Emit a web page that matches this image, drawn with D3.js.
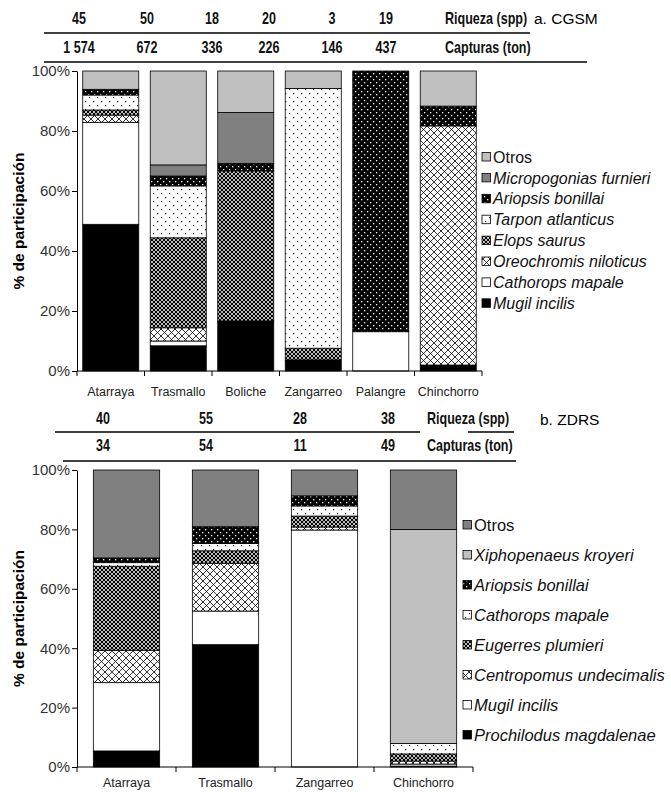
<!DOCTYPE html>
<html><head><meta charset="utf-8">
<script src="https://cdn.jsdelivr.net/npm/d3@7"></script>
<style>
body{margin:0;background:#fff;}
svg{display:block;}
</style></head>
<body>
<svg id="chart" width="671" height="792"></svg>
<script>
// ---------- DATA ----------
const gearsA = ["Atarraya","Trasmallo","Boliche","Zangarreo","Palangre","Chinchorro"];
const riquezaA = ["45","50","18","20","3","19"];
const capturasA = ["1 574","672","336","226","146","437"];
const speciesA = ["Mugil incilis","Cathorops mapale","Oreochromis niloticus","Elops saurus","Tarpon atlanticus","Ariopsis bonillai","Micropogonias furnieri","Otros"];
const mugilA        = [48.9, 8.4, 16.7, 3.7, 0, 2.0];
const cathoropsA    = [34.0, 1.6, 0, 0, 13.1, 0];
const oreochromisA  = [2.4, 4.4, 0, 0, 0, 79.7];
const elopsA        = [1.7, 30.0, 50.0, 3.9, 0, 0];
const tarponA       = [5.0, 17.3, 0, 86.6, 0, 0];
const ariopsisA     = [1.9, 3.3, 2.5, 0, 86.9, 6.6];
const micropogoniasA= [0, 3.7, 17.0, 0, 0, 0];
const otrosA        = [6.1, 31.3, 13.8, 5.8, 0, 11.7];

const gearsB = ["Atarraya","Trasmallo","Zangarreo","Chinchorro"];
const riquezaB = ["40","55","28","38"];
const capturasB = ["34","54","11","49"];
const speciesB = ["Prochilodus magdalenae","Mugil incilis","Centropomus undecimalis","Eugerres plumieri","Cathorops mapale","Ariopsis bonillai","Xiphopenaeus kroyeri","Otros"];
const prochilodusB = [5.4, 41.2, 0, 0.3];
const mugilB       = [23.0, 11.3, 79.8, 0.7];
const centropomusB = [10.9, 16.1, 1.0, 1.0];
const eugerresB    = [28.3, 4.2, 3.7, 2.4];
const cathoropsB   = [1.2, 2.5, 3.4, 3.5];
const ariopsisB    = [1.6, 5.6, 3.4, 0];
const xiphoB       = [0, 0, 0, 72.1];
const otrosB       = [29.6, 19.1, 8.7, 20.0];
const yTicks = [0,20,40,60,80,100];

// ---------- STYLES ----------
const fillsA = ["#000","#fff","url(#cross)","url(#dense)","url(#sparse)","url(#blackdots)","#808080","#c0c0c0"];
const fillsB = ["#000","#fff","url(#cross)","url(#dense)","url(#sparse)","url(#blackdots)","#c0c0c0","#808080"];
const sans = "'Liberation Sans',Arial,sans-serif";

const svg = d3.select("#chart");
const defs = svg.append("defs");
let p = defs.append("pattern").attr("id","cross").attr("patternUnits","userSpaceOnUse").attr("width",7).attr("height",7);
p.append("rect").attr("width",7).attr("height",7).attr("fill","#fff");
p.append("path").attr("d","M0,0L7,7M7,0L0,7M-1,6L1,8M6,-1L8,1M-1,1L1,-1M6,8L8,6").attr("stroke","#000").attr("stroke-width",0.8);
p = defs.append("pattern").attr("id","dense").attr("patternUnits","userSpaceOnUse").attr("width",4).attr("height",4);
p.append("rect").attr("width",4).attr("height",4).attr("fill","#fff");
[[0,0],[4,0],[0,4],[4,4],[2,2]].forEach(([cx,cy])=>p.append("circle").attr("cx",cx).attr("cy",cy).attr("r",1.3).attr("fill","#000"));
p = defs.append("pattern").attr("id","sparse").attr("patternUnits","userSpaceOnUse").attr("width",8).attr("height",8);
p.append("rect").attr("width",8).attr("height",8).attr("fill","#fff");
p.append("rect").attr("x",1).attr("y",1).attr("width",1.2).attr("height",1.2).attr("fill","#000");
p.append("rect").attr("x",5).attr("y",5).attr("width",1.2).attr("height",1.2).attr("fill","#000");
p = defs.append("pattern").attr("id","blackdots").attr("patternUnits","userSpaceOnUse").attr("width",6).attr("height",6);
p.append("rect").attr("width",6).attr("height",6).attr("fill","#000");
p.append("rect").attr("x",1).attr("y",1).attr("width",1.3).attr("height",1.3).attr("fill","#fff");
p.append("rect").attr("x",4).attr("y",4).attr("width",1.3).attr("height",1.3).attr("fill","#fff");

function narrowText(g, x, y, txt, anchor){
  return g.append("text").attr("transform",`translate(${x},${y}) scale(0.76,1)`)
    .attr("text-anchor",anchor||"start").attr("font-family",sans).attr("font-weight","bold")
    .attr("font-size",16.5).attr("fill","#111").text(txt);
}

function panel(cfg){
  const g = svg.append("g");
  const x = d3.scaleBand().domain(cfg.gears).range([cfg.x0, cfg.x1]).paddingInner(cfg.pad).paddingOuter(cfg.pad/2);
  const y = d3.scaleLinear().domain([0,100]).range([cfg.yb, cfg.yt]);
  const table = cfg.gears.map((gname,i)=>{
    const o = {gear:gname};
    cfg.species.forEach((s,k)=>o[s]=cfg.series[k][i]);
    return o;
  });
  const stacked = d3.stack().keys(cfg.species)(table);
  stacked.forEach((layer,k)=>{
    g.append("g").selectAll("rect").data(layer.filter(d=>d[1]-d[0]>0)).join("rect")
      .attr("x",d=>x(d.data.gear)).attr("width",x.bandwidth())
      .attr("y",d=>y(d[1])).attr("height",d=>y(d[0])-y(d[1]))
      .attr("fill",cfg.fills[k]).attr("stroke","#000").attr("stroke-width",0.8);
  });
  const ya = g.append("g").attr("transform",`translate(${cfg.x0},0)`)
    .call(d3.axisLeft(y).tickValues(yTicks).tickFormat(d=>d+"%").tickSize(5).tickSizeOuter(0).tickPadding(2));
  ya.select(".domain").attr("stroke","#000");
  ya.selectAll("text").attr("font-family",sans).attr("font-size",15).attr("fill","#333");
  const xa = g.append("g").attr("transform",`translate(0,${cfg.yb})`)
    .call(d3.axisBottom(x).tickSize(0).tickPadding(cfg.labelPad));
  xa.select(".domain").remove();
  xa.selectAll("text").attr("font-family",sans).attr("font-size",cfg.labelSize).attr("fill","#222");
  g.append("line").attr("x1",cfg.x0).attr("x2",cfg.x1).attr("y1",cfg.yb).attr("y2",cfg.yb).attr("stroke","#000");
  const bounds = cfg.gears.map(gn=>x(gn)-x.step()*x.paddingInner()/2).concat([cfg.x1]);
  g.selectAll(".bt").data(bounds).join("line").attr("x1",d=>d).attr("x2",d=>d)
    .attr("y1",cfg.yb).attr("y2",cfg.yb+5).attr("stroke","#000");
  g.append("text").attr("transform",`translate(${cfg.titleX},${(cfg.yb+cfg.yt)/2}) rotate(-90)`)
    .attr("text-anchor","middle").attr("font-family",sans).attr("font-weight","bold").attr("font-size",15.5)
    .text("% de participación");
  const legendOrder = cfg.species.map((s,k)=>k).reverse();
  legendOrder.forEach((k,i)=>{
    const ly = cfg.legY + i*cfg.legStep;
    g.append("rect").attr("x",cfg.legX).attr("y",ly-4.5).attr("width",8.5).attr("height",8.5)
      .attr("fill",cfg.fills[k]).attr("stroke","#000").attr("stroke-width",0.8);
    g.append("text").attr("x",cfg.legX+11).attr("y",ly).attr("dy","0.35em")
      .attr("font-family",sans).attr("font-size",cfg.legSize).attr("fill","#111")
      .attr("font-style",cfg.species[k]==="Otros"?"normal":"italic")
      .text(cfg.species[k]);
  });
  const h = cfg.header;
  h.riqueza.forEach((v,i)=>narrowText(g,h.cols[i],h.r1,v,"middle"));
  h.capturas.forEach((v,i)=>narrowText(g,h.cols[i],h.r2,v,"middle"));
  narrowText(g,h.labX,h.r1,"Riqueza (spp)");
  narrowText(g,h.labX,h.r2,"Capturas (ton)");
  g.append("text").attr("x",h.tagX).attr("y",h.tagY).attr("font-family",sans).attr("font-size",15.5).text(h.tag);
  h.lines.forEach(l=>g.append("line").attr("x1",l[0]).attr("x2",l[1]).attr("y1",l[2]).attr("y2",l[2]).attr("stroke","#000").attr("stroke-width",1.3));
}

panel({
  gears:gearsA, species:speciesA,
  series:[mugilA,cathoropsA,oreochromisA,elopsA,tarponA,ariopsisA,micropogoniasA,otrosA],
  fills:fillsA, x0:77, x1:482, pad:0.17, yb:371, yt:71, labelPad:16, labelSize:12.5, titleX:24,
  legX:482, legY:157, legStep:20.9, legSize:16,
  header:{riqueza:riquezaA, capturas:capturasA, cols:[79,147,212,269,332,386],
    r1:24, r2:53, labX:445, tag:"a. CGSM", tagX:534, tagY:24, lines:[[44,530,33],[44,587,62]]}
});
panel({
  gears:gearsB, species:speciesB,
  series:[prochilodusB,mugilB,centropomusB,eugerresB,cathoropsB,ariopsisB,xiphoB,otrosB],
  fills:fillsB, x0:77, x1:473, pad:0.33, yb:767, yt:470, labelPad:11, labelSize:12.5, titleX:24,
  legX:463, legY:525, legStep:30, legSize:16.5,
  header:{riqueza:riquezaB, capturas:capturasB, cols:[103,206,300,388],
    r1:424, r2:451, labX:427, tag:"b. ZDRS", tagX:540, tagY:425, lines:[[55,420,432],[468,514,432],[63,420,461],[420,516,461]]}
});
</script>
</body></html>
